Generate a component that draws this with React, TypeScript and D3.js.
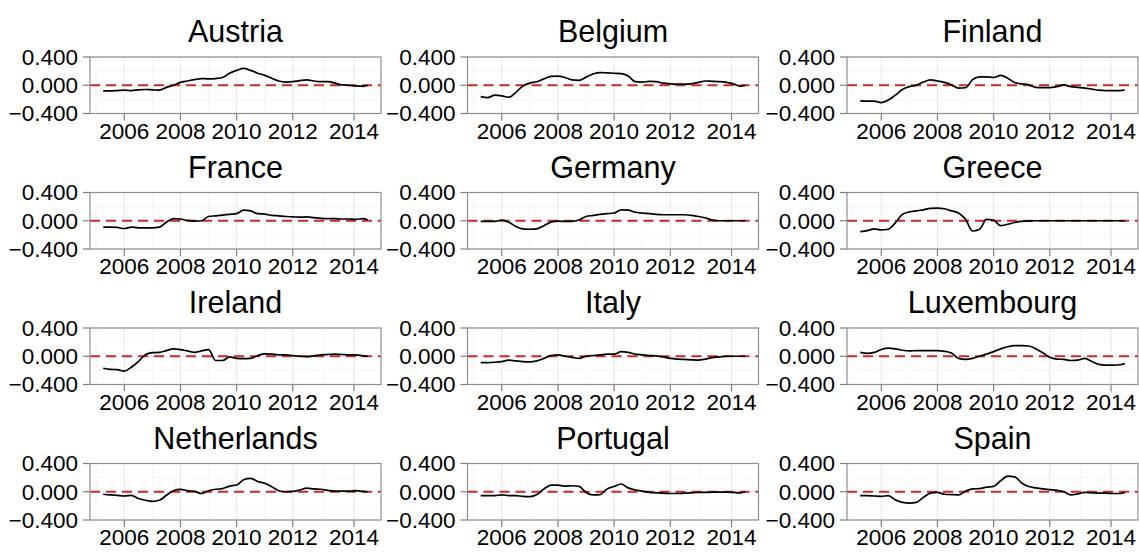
import React from "react";
import * as d3 from "d3";

const COUNTRIES = [
  "Austria", "Belgium", "Finland",
  "France", "Germany", "Greece",
  "Ireland", "Italy", "Luxembourg",
  "Netherlands", "Portugal", "Spain",
];

// quarterly observation times (2005Q2 .. 2014Q3) plus the last observation
const TIMES = d3.range(38).map((i) => 2005.25 + i * 0.25).concat([2014.67]);

const AUSTRIA = [-0.08, -0.08, -0.075, -0.07, -0.075, -0.065, -0.06, -0.065, -0.07, -0.03, 0.0, 0.04, 0.06, 0.08, 0.095, 0.09, 0.095, 0.11, 0.17, 0.21, 0.24, 0.21, 0.17, 0.14, 0.1, 0.06, 0.045, 0.05, 0.065, 0.075, 0.06, 0.05, 0.05, 0.03, 0.005, 0.0, -0.01, -0.015, 0.0];
const BELGIUM = [-0.16, -0.175, -0.14, -0.15, -0.17, -0.1, -0.01, 0.03, 0.05, 0.09, 0.125, 0.13, 0.11, 0.075, 0.07, 0.115, 0.16, 0.18, 0.175, 0.17, 0.165, 0.13, 0.05, 0.045, 0.055, 0.05, 0.03, 0.02, 0.015, 0.015, 0.02, 0.04, 0.06, 0.055, 0.05, 0.04, 0.02, -0.015, 0.0];
const FINLAND = [-0.22, -0.225, -0.225, -0.245, -0.21, -0.14, -0.06, -0.02, 0.0, 0.045, 0.075, 0.06, 0.04, 0.005, -0.04, -0.035, 0.08, 0.12, 0.12, 0.11, 0.14, 0.1, 0.04, 0.02, 0.005, -0.03, -0.035, -0.035, -0.02, 0.005, -0.02, -0.03, -0.04, -0.055, -0.07, -0.075, -0.075, -0.075, -0.07];
const FRANCE = [-0.09, -0.09, -0.095, -0.11, -0.09, -0.1, -0.1, -0.1, -0.09, -0.02, 0.03, 0.025, 0.005, -0.005, 0.0, 0.06, 0.07, 0.08, 0.09, 0.1, 0.15, 0.14, 0.1, 0.095, 0.075, 0.07, 0.06, 0.055, 0.05, 0.055, 0.045, 0.035, 0.03, 0.03, 0.025, 0.025, 0.02, 0.03, 0.01];
const GERMANY = [-0.01, -0.01, -0.01, 0.01, -0.02, -0.08, -0.115, -0.12, -0.115, -0.07, -0.02, -0.005, -0.01, -0.01, 0.01, 0.06, 0.075, 0.09, 0.1, 0.11, 0.155, 0.15, 0.12, 0.11, 0.1, 0.09, 0.085, 0.085, 0.085, 0.085, 0.075, 0.06, 0.04, 0.01, 0.0, 0.0, 0.0, 0.0, 0.0];
const GREECE = [-0.155, -0.14, -0.115, -0.13, -0.12, -0.03, 0.09, 0.125, 0.14, 0.155, 0.175, 0.18, 0.17, 0.14, 0.11, 0.02, -0.145, -0.12, 0.02, 0.01, -0.07, -0.05, -0.025, -0.01, -0.005, 0.0, 0.0, 0.0, 0.0, 0.0, 0.0, 0.0, 0.0, 0.0, 0.0, 0.0, 0.0, 0.0, 0.0];
const IRELAND = [-0.17, -0.185, -0.19, -0.21, -0.155, -0.075, 0.02, 0.05, 0.055, 0.08, 0.105, 0.095, 0.075, 0.055, 0.075, 0.095, -0.06, -0.06, -0.01, -0.03, -0.035, -0.03, 0.01, 0.035, 0.03, 0.02, 0.02, 0.01, 0.0, -0.005, 0.005, 0.02, 0.025, 0.03, 0.025, 0.02, 0.02, 0.005, 0.0];
const ITALY = [-0.09, -0.09, -0.085, -0.075, -0.055, -0.065, -0.075, -0.08, -0.065, -0.03, 0.01, 0.02, 0.0, -0.015, -0.03, 0.0, 0.01, 0.02, 0.03, 0.03, 0.065, 0.055, 0.03, 0.02, 0.01, 0.005, -0.01, -0.03, -0.04, -0.045, -0.05, -0.055, -0.04, -0.02, -0.01, 0.0, 0.0, 0.0, 0.0];
const LUXEMBOURG = [0.055, 0.04, 0.055, 0.095, 0.115, 0.105, 0.085, 0.075, 0.08, 0.08, 0.08, 0.08, 0.07, 0.045, -0.03, -0.045, -0.03, 0.0, 0.03, 0.065, 0.105, 0.135, 0.15, 0.15, 0.145, 0.105, 0.05, -0.015, -0.04, -0.045, -0.06, -0.055, -0.03, -0.075, -0.115, -0.125, -0.125, -0.12, -0.105];
const NETHERLANDS = [-0.035, -0.045, -0.05, -0.06, -0.05, -0.095, -0.12, -0.135, -0.12, -0.05, 0.015, 0.035, 0.015, 0.005, -0.025, 0.015, 0.035, 0.045, 0.08, 0.095, 0.17, 0.19, 0.145, 0.12, 0.07, 0.015, 0.0, 0.005, 0.025, 0.05, 0.04, 0.035, 0.02, 0.01, 0.01, 0.01, 0.015, 0.005, 0.0];
const PORTUGAL = [-0.055, -0.055, -0.055, -0.045, -0.055, -0.055, -0.065, -0.07, -0.04, 0.04, 0.095, 0.095, 0.08, 0.085, 0.075, -0.01, -0.045, -0.04, 0.04, 0.075, 0.11, 0.055, 0.025, 0.01, -0.01, -0.015, -0.02, -0.025, -0.025, -0.02, -0.015, -0.01, -0.01, -0.005, -0.005, -0.005, -0.01, -0.015, 0.0];
const SPAIN = [-0.055, -0.055, -0.06, -0.065, -0.055, -0.115, -0.15, -0.16, -0.15, -0.08, -0.02, -0.01, -0.035, -0.04, -0.045, 0.01, 0.04, 0.045, 0.065, 0.075, 0.155, 0.22, 0.21, 0.125, 0.075, 0.055, 0.04, 0.03, 0.02, 0.0, -0.045, -0.03, -0.01, -0.015, -0.02, -0.02, -0.025, -0.025, -0.01];

const SERIES = [
  AUSTRIA, BELGIUM, FINLAND,
  FRANCE, GERMANY, GREECE,
  IRELAND, ITALY, LUXEMBOURG,
  NETHERLANDS, PORTUGAL, SPAIN,
];

const X_TICK_POS = [2006, 2008, 2010, 2012, 2014.18];
const X_TICK_LABELS = ["2006", "2008", "2010", "2012", "2014"];
const X_MINOR = [2005, 2007, 2009, 2011, 2013.09];
const Y_TICKS = [-0.4, 0, 0.4];
const Y_TICK_LABELS = ["\u22120.400", "0.000", "0.400"];
const Y_MINOR = [-0.2, 0.2];

const W = 1139;
const H = 552;
const COL_LEFT = [90, 467.5, 847];
const ROW_TOP = [57, 192.5, 328, 463.5];
const PW = 291;
const PH = 56.5;
const FONT = "'Liberation Sans', Arial, Helvetica, sans-serif";

function Panel({ name, values, left, top }) {
  const ext = d3.extent(TIMES);
  const pad = (ext[1] - ext[0]) * 0.05;
  const x = d3.scaleLinear().domain([ext[0] - pad, ext[1] + pad]).range([0, PW]);
  const y = d3.scaleLinear().domain([-0.4, 0.4]).range([PH, 0]);
  const line = d3
    .line()
    .x((d) => x(d[0]))
    .y((d) => y(d[1]))
    .curve(d3.curveMonotoneX);
  const pts = TIMES.map((t, i) => [t, values[i]]);
  return (
    <g transform={`translate(${left},${top})`}>
      <rect x={0} y={0} width={PW} height={PH} fill="#ffffff" />
      {X_MINOR.map((v, i) => (
        <line key={"xm" + i} x1={x(v)} x2={x(v)} y1={0} y2={PH} stroke="#f2f2f2" strokeWidth={0.8} />
      ))}
      {Y_MINOR.map((v, i) => (
        <line key={"ym" + i} x1={0} x2={PW} y1={y(v)} y2={y(v)} stroke="#f2f2f2" strokeWidth={0.8} />
      ))}
      {X_TICK_POS.map((v, i) => (
        <line key={"xg" + i} x1={x(v)} x2={x(v)} y1={0} y2={PH} stroke="#e6e6e6" strokeWidth={1} />
      ))}
      {Y_TICKS.map((v, i) => (
        <line key={"yg" + i} x1={0} x2={PW} y1={y(v)} y2={y(v)} stroke="#e6e6e6" strokeWidth={1} />
      ))}
      <line x1={0} x2={PW} y1={y(0)} y2={y(0)} stroke="#cc2a2a" strokeWidth={2} strokeDasharray="10 6" />
      <path d={line(pts)} fill="none" stroke="#000000" strokeWidth={1.7} strokeLinejoin="round" />
      <rect x={0} y={0} width={PW} height={PH} fill="none" stroke="#8f8f8f" strokeWidth={1.2} />
      {Y_TICKS.map((v, i) => (
        <g key={"yt" + i}>
          <line x1={-7} x2={0} y1={y(v)} y2={y(v)} stroke="#7f7f7f" strokeWidth={1.2} />
          <text x={-12} y={y(v) + 7.8} textAnchor="end" fontSize={22.5} fill="#000">
            {Y_TICK_LABELS[i]}
          </text>
        </g>
      ))}
      {X_TICK_POS.map((v, i) => (
        <g key={"xt" + i}>
          <line x1={x(v)} x2={x(v)} y1={PH} y2={PH + 7} stroke="#7f7f7f" strokeWidth={1.2} />
          <text x={x(v)} y={PH + 25} textAnchor="middle" fontSize={22.5} fill="#000">
            {X_TICK_LABELS[i]}
          </text>
        </g>
      ))}
      <text x={PW / 2} y={-15} textAnchor="middle" fontSize={30.5} fill="#000">
        {name}
      </text>
    </g>
  );
}

export default function App() {
  return (
    <svg
      width={W}
      height={H}
      style={{ position: "absolute", left: 0, top: 0, background: "#fff" }}
      fontFamily={FONT}
    >
      <rect x={0} y={0} width={W} height={H} fill="#ffffff" />
      {COUNTRIES.map((name, i) => (
        <Panel
          key={name}
          name={name}
          values={SERIES[i]}
          left={COL_LEFT[i % 3]}
          top={ROW_TOP[Math.floor(i / 3)]}
        />
      ))}
    </svg>
  );
}
